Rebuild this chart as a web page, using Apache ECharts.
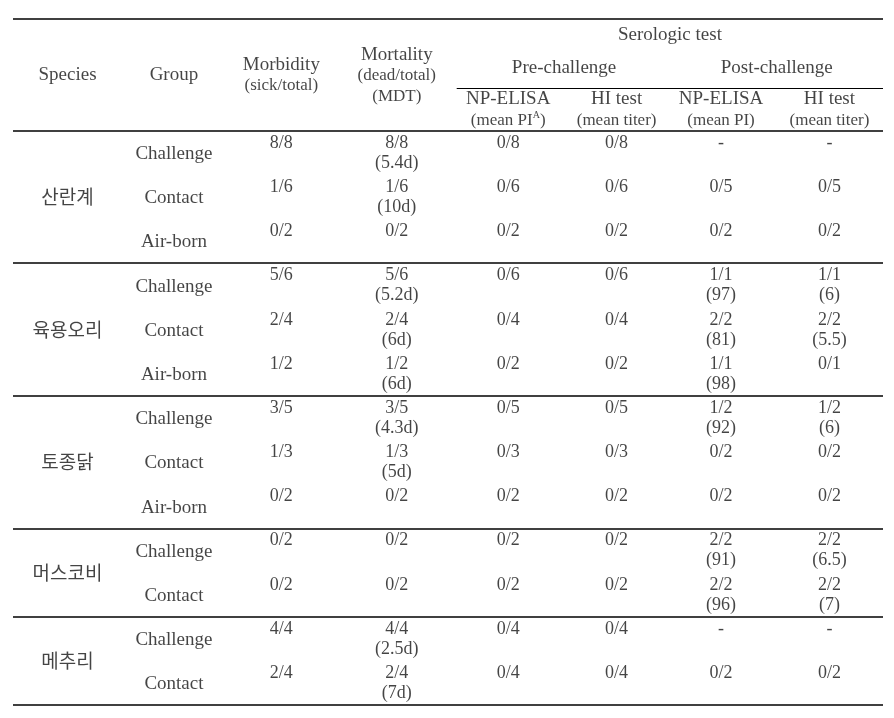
<!DOCTYPE html>
<html><head><meta charset="utf-8">
<script src="https://cdn.jsdelivr.net/npm/echarts@6/dist/echarts.min.js"></script>
<style>html,body{margin:0;padding:0;background:#fff}#c{width:894px;height:718px}</style>
</head><body><div id="c"></div>
<script>
// ---------- DATA ----------
const species = ['산란계', '육용오리', '토종닭', '머스코비', '메추리'];
const speciesRows = [3, 3, 3, 2, 2];
const groups = ['Challenge', 'Contact', 'Air-born', 'Challenge', 'Contact', 'Air-born', 'Challenge', 'Contact', 'Air-born', 'Challenge', 'Contact', 'Challenge', 'Contact'];
const morbidity = ['8/8', '1/6', '0/2', '5/6', '2/4', '1/2', '3/5', '1/3', '0/2', '0/2', '0/2', '4/4', '2/4'];
const mortality = ['8/8\n(5.4d)', '1/6\n(10d)', '0/2', '5/6\n(5.2d)', '2/4\n(6d)', '1/2\n(6d)', '3/5\n(4.3d)', '1/3\n(5d)', '0/2', '0/2', '0/2', '4/4\n(2.5d)', '2/4\n(7d)'];
const preNP = ['0/8', '0/6', '0/2', '0/6', '0/4', '0/2', '0/5', '0/3', '0/2', '0/2', '0/2', '0/4', '0/4'];
const preHI = ['0/8', '0/6', '0/2', '0/6', '0/4', '0/2', '0/5', '0/3', '0/2', '0/2', '0/2', '0/4', '0/4'];
const postNP = ['-', '0/5', '0/2', '1/1\n(97)', '2/2\n(81)', '1/1\n(98)', '1/2\n(92)', '0/2', '0/2', '2/2\n(91)', '2/2\n(96)', '-', '0/2'];
const postHI = ['-', '0/5', '0/2', '1/1\n(6)', '2/2\n(5.5)', '0/1', '1/2\n(6)', '0/2', '0/2', '2/2\n(6.5)', '2/2\n(7)', '-', '0/2'];

const headerLeaf = ['Species', 'Group', 'Morbidity\n(sick/total)', 'Mortality\n(dead/total)\n(MDT)', 'NP-ELISA\n(mean PI{sup|A})', 'HI test\n(mean titer)', 'NP-ELISA\n(mean PI)', 'HI test\n(mean titer)'];
const headerTop = 'Serologic test';
const headerMid = ['Pre-challenge', 'Post-challenge'];

// ---------- LAYOUT / STYLE ----------
const nudge = [1, -2, -4, 2, 4, 3, -2, -3];          // px per column
const leafY = [-1.26, -1.26, -1.25, -1.24, -0.47, -0.47, -0.47, -0.47];
const topPos = [5.515, -2.17];
const midPos = [[4.547, -1.42], [6.49, -1.42]];
const preLine = { x0: 3.566, y: -0.955 };
const X_MIN = -0.489, X_MAX = 7.462, Y_MIN = -2.54, Y_MAX = 13;
const SERIF = '"Liberation Serif","Times New Roman",serif';
const KOR = '"Noto Sans CJK KR","Noto Sans",sans-serif';
const INK = '#151515';

const hidden = { color: 'rgba(0,0,0,0)' };

function valueSeries(values, col) {
  return {
    type: 'scatter', symbolSize: 1, itemStyle: hidden, silent: true,
    data: values.map((v, i) => [col, i + 0.28, v]),
    label: {
      show: true, position: 'inside', align: 'center', verticalAlign: 'top',
      offset: [nudge[col], -10], lineHeight: 20,
      fontFamily: SERIF, fontSize: 18, color: INK,
      formatter: p => p.data[2]
    }
  };
}

const series = [];

// species column
let start = 0;
const speciesData = species.map((s, k) => {
  const d = [0, start + speciesRows[k] / 2, s];
  start += speciesRows[k];
  return d;
});

// horizontal rules
const ruleYs = [Y_MIN, 0];
let acc = 0;
speciesRows.forEach(n => { acc += n; ruleYs.push(acc); });
const rules = ruleYs.map(y => [{ coord: [X_MIN, y] }, { coord: [X_MAX, y] }]);
rules.push([{ coord: [preLine.x0, preLine.y], lineStyle: { width: 1.2 } }, { coord: [X_MAX, preLine.y] }]);

series.push({
  type: 'scatter', symbolSize: 1, itemStyle: hidden, silent: true,
  data: speciesData,
  label: {
    show: true, position: 'inside', offset: [nudge[0], 0],
    fontFamily: KOR, fontSize: 19, color: INK,
    formatter: p => p.data[2]
  },
  markLine: {
    silent: true, symbol: 'none', animation: false,
    label: { show: false },
    lineStyle: { color: '#000', width: 1.5, type: 'solid' },
    data: rules
  }
});

// group column
series.push({
  type: 'scatter', symbolSize: 1, itemStyle: hidden, silent: true,
  data: groups.map((g, i) => [1, i + 0.53, g]),
  label: {
    show: true, position: 'inside', offset: [nudge[1], 0],
    fontFamily: SERIF, fontSize: 19, color: INK,
    formatter: p => p.data[2]
  }
});

[morbidity, mortality, preNP, preHI, postNP, postHI].forEach((vals, k) => series.push(valueSeries(vals, k + 2)));

// header
const headerRich = {
  h: { fontFamily: SERIF, fontSize: 19, lineHeight: 21, color: INK },
  s: { fontFamily: SERIF, fontSize: 17, lineHeight: 21, color: INK },
  sup: { fontFamily: SERIF, fontSize: 10, lineHeight: 21, color: INK, verticalAlign: 'top' }
};
function headerFmt(txt) {
  return txt.split('\n').map((line, i) => {
    const parts = line.split(/(\{sup\|[^}]*\})/).filter(x => x);
    return parts.map(p => p.startsWith('{sup') ? p : '{' + (i === 0 ? 'h' : 's') + '|' + p + '}').join('');
  }).join('\n');
}
const headerData = headerLeaf.map((t, k) => ({ value: [k, leafY[k], t], label: { offset: [nudge[k], 0] } }));
headerData.push({ value: [topPos[0], topPos[1], headerTop] });
headerMid.forEach((t, k) => headerData.push({ value: [midPos[k][0], midPos[k][1], t] }));
series.push({
  type: 'scatter', symbolSize: 1, itemStyle: hidden, silent: true,
  data: headerData,
  label: {
    show: true, position: 'inside', align: 'center', verticalAlign: 'middle',
    rich: headerRich,
    formatter: p => headerFmt(p.data.value[2])
  }
});

const chart = echarts.init(document.getElementById('c'), null, { renderer: 'canvas' });
chart.setOption({
  animation: false,
  backgroundColor: '#fff',
  grid: { left: 13, right: 11, top: 18.5, bottom: 13 },
  xAxis: { type: 'value', min: X_MIN, max: X_MAX, show: false },
  yAxis: { type: 'value', min: Y_MIN, max: Y_MAX, inverse: true, show: false },
  series: series
});
</script>
</body></html>
